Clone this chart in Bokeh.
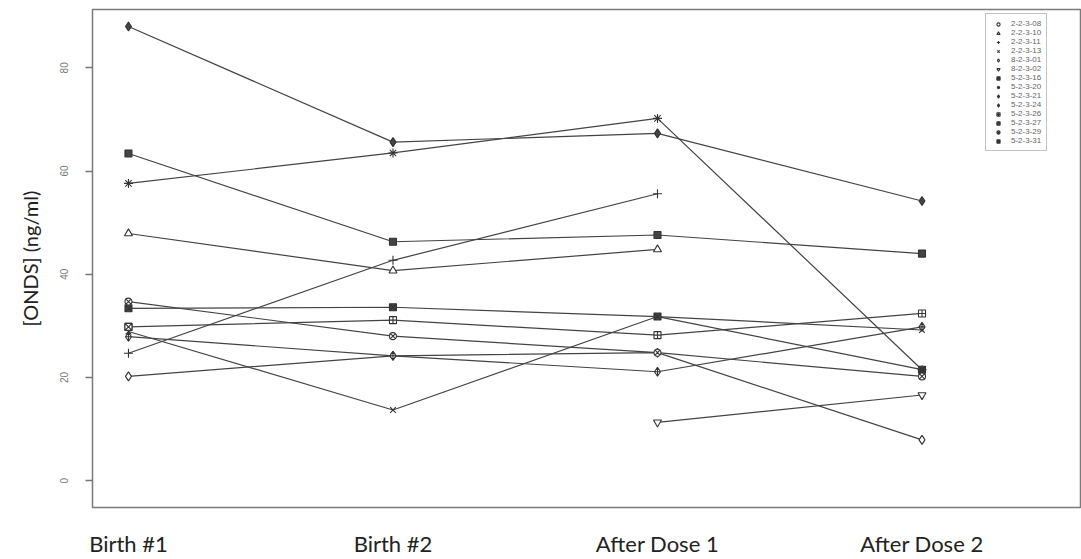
import math
from bokeh.plotting import figure
from bokeh.models import FixedTicker, Legend, LegendItem, Range1d
from bokeh.embed import file_html
from bokeh.resources import INLINE

nan = float("nan")

timepoints = ["Birth #1", "Birth #2", "After Dose 1", "After Dose 2"]
x_pos = [1, 2, 3, 4]
y_ticks = [0, 20, 40, 60, 80]

subjects = ["2-2-3-08", "2-2-3-10", "2-2-3-11", "2-2-3-13", "8-2-3-01", "8-2-3-02",
            "5-2-3-16", "5-2-3-20", "5-2-3-21", "5-2-3-24", "5-2-3-26", "5-2-3-27",
            "5-2-3-29", "5-2-3-31"]

s_22308 = [nan, 24.2, nan, nan]
s_22310 = [47.9, 40.7, 44.8, nan]
s_22311 = [24.7, 42.7, 55.6, nan]
s_22313 = [28.9, 13.7, 31.8, 29.2]
s_82301 = [20.2, 24.2, 24.8, 7.9]
s_82302 = [nan, nan, 11.3, 16.6]
s_52316 = [33.4, 33.6, 31.8, 21.5]
s_52320 = [57.6, 63.5, 70.2, 21.5]
s_52321 = [27.9, 24.2, 21.1, 29.8]
s_52324 = [88.0, 65.6, 67.3, 54.2]
s_52326 = [29.8, 31.1, 28.2, 32.4]
s_52327 = [63.4, 46.3, 47.6, 44.0]
s_52329 = [34.7, 28.0, 24.8, 20.2]
s_52331 = [29.8, nan, nan, nan]

series = [s_22308, s_22310, s_22311, s_22313, s_82301, s_82302, s_52316,
          s_52320, s_52321, s_52324, s_52326, s_52327, s_52329, s_52331]

# marker style per subject: (marker, size, filled)
styles = [("circle", 5, False), ("triangle", 8, False), ("cross", 9, False),
          ("x", 8, False), ("diamond", 9, False), ("inverted_triangle", 8, False),
          ("square_x", 7, True), ("asterisk", 9, False), ("diamond_cross", 9, False),
          ("diamond", 9, True), ("square_cross", 7, False), ("square", 7, True),
          ("circle_x", 7, False), ("square_x", 7, False)]

p = figure(width=1081, height=559, output_backend="svg", toolbar_location=None,
           x_range=Range1d(0.864, 4.603), y_range=Range1d(-5.2, 91.3),
           min_border_left=92, min_border_right=0, min_border_top=9,
           min_border_bottom=51)
p.xgrid.visible = False
p.ygrid.visible = False
p.outline_line_color = "#7a7a7a"
p.outline_line_width = 1.5
p.background_fill_color = "white"
p.border_fill_color = "white"

line_col = "#444444"
items = []
for name, ys, (mk, sz, filled) in zip(subjects, series, styles):
    p.line(x_pos, ys, line_color=line_col, line_width=1.2)
    xs = [x for x, y in zip(x_pos, ys) if not math.isnan(y)]
    yv = [y for y in ys if not math.isnan(y)]
    r = p.scatter(xs, yv, marker=mk, size=sz, line_color="#333333", line_width=1.1,
                  fill_color="#444444" if filled else "white")
    items.append(LegendItem(label=name, renderers=[r]))

legend = Legend(items=items, location=(893, 356), label_text_font_size="8px",
                label_text_font="Liberation Sans", label_text_color="#666666",
                label_height=8, glyph_height=8, glyph_width=14, spacing=0,
                padding=5, margin=0, label_standoff=6,
                border_line_color="#888888", border_line_width=1,
                background_fill_color="white", background_fill_alpha=1.0)
p.add_layout(legend)

# x axis
p.xaxis.ticker = FixedTicker(ticks=x_pos)
p.xaxis.major_label_overrides = {x: t for x, t in zip(x_pos, timepoints)}
p.xaxis.major_label_text_font = "Lato"
p.xaxis.major_label_text_font_size = "22px"
p.xaxis.major_label_text_color = "#222222"
p.xaxis.major_tick_line_color = None
p.xaxis.minor_tick_line_color = None
p.xaxis.axis_line_color = None
p.xaxis.major_label_standoff = 16

# y axis
p.yaxis.ticker = FixedTicker(ticks=y_ticks)
p.yaxis.major_label_orientation = "vertical"
p.yaxis.major_label_text_font = "Liberation Sans"
p.yaxis.major_label_text_font_size = "10px"
p.yaxis.major_label_text_color = "#777777"
p.yaxis.major_tick_line_color = "#777777"
p.yaxis.major_tick_line_width = 1.3
p.yaxis.major_tick_out = 7
p.yaxis.major_tick_in = 0
p.yaxis.minor_tick_line_color = None
p.yaxis.axis_line_color = None
p.yaxis.major_label_standoff = 17
p.yaxis.axis_label = "[ONDS] (ng/ml)"
p.yaxis.axis_label_text_font = "Lato"
p.yaxis.axis_label_text_font_size = "20px"
p.yaxis.axis_label_text_font_style = "normal"
p.yaxis.axis_label_text_color = "#222222"
p.yaxis.axis_label_standoff = 16

open("out.html", "w").write(file_html(p, INLINE))
